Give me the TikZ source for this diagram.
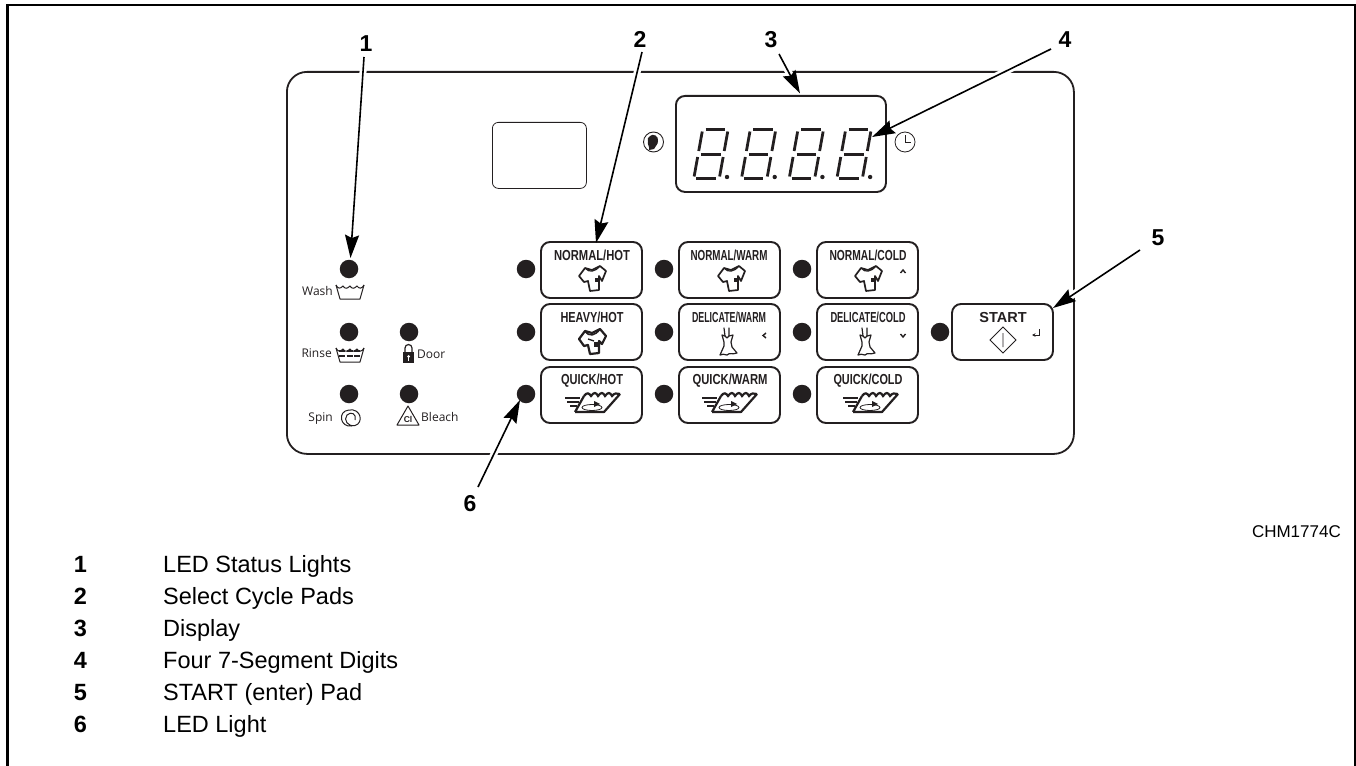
\documentclass[tikz,border=0pt]{standalone}
\usepackage{fontspec}
\usepackage{graphicx}
\setmainfont{Liberation Sans}
\newfontfamily\iconfont{Open Sans}
\usetikzlibrary{arrows.meta,calc}
\definecolor{ink}{HTML}{231F20}
\newcommand{\fs}[1]{\fontsize{#1}{#1}\selectfont}
\newcommand{\padtxt}[2]{\resizebox{#1pt}{10.5pt}{\bfseries #2}}
\tikzset{
 panelline/.style={draw=ink,line width=1.8pt},
 padbox/.style={draw=ink,line width=1.9pt,rounded corners=9pt,minimum width=101pt,minimum height=56pt,inner sep=0pt,fill=white},
 ledlamp/.style={circle,fill=ink,minimum size=18.5pt,inner sep=0pt},
 callnum/.style={font=\fs{23}\bfseries,inner sep=0pt,text=black},
 legnum/.style={font=\fs{23.5}\bfseries,inner sep=0pt,anchor=base,text=black},
 legtxt/.style={font=\fs{23.5},inner sep=0pt,anchor=base west,text=black},
 padlab/.style={inner sep=0pt,text=ink,anchor=center},
 smalltxt/.style={font=\iconfont\fs{12},inner sep=0pt,text=ink},
 halo/.style={draw=white,line width=7pt,shorten >=12pt},
 callout/.style={draw=black,line width=1.6pt,-{Stealth[length=23pt,width=14pt,inset=3pt]}},
 shirt/.pic={
  \draw[ink,line width=1.7pt,line join=round] (-13,-3)--(-7,-11)--(0,-9)--(8,-13)--(14,-8)--(10,2)--(7,-3)--(7,11)--(-2,12)--(-4,2)--(-8,3)--cycle;
  \draw[ink,line width=1.2pt] (-7,-11) .. controls (-3,-6) and (3,-7) .. (8,-13);
  \fill[ink] (3,-1) rectangle (7,3);
 },
 heavyshirt/.pic={
  \draw[ink,line width=2.2pt,line join=round] (-13,-3)--(-7,-11)--(0,-9)--(8,-13)--(14,-6)--(10,2)--(7,-1)--(7,11)--(-2,12)--(-4,3)--(-8,4)--cycle;
  \draw[ink,line width=1.6pt] (-7,-11) .. controls (-3,-5) and (3,-6) .. (8,-13);
  \draw[ink,line width=1.4pt] (-4,-3)--(2,-1);
  \fill[ink] (2,0) rectangle (7,5);
 },
 dress/.pic={
  \draw[ink,line width=1.2pt,line join=round,line cap=round] (-4,-14)--(-3,-6) (1,-14)--(1,-6);
  \draw[ink,line width=1.2pt,line join=round] (-6,-7)--(-3,-6)--(-1,-4)--(1,-6)--(5,-7)--(3,0)--(4,5)--(9,11) .. controls (4,13) and (2,10) .. (-1,13) .. controls (-4,12) and (-6,12) .. (-8,13)--(-4,4)--(-4,0)--cycle;
 },
 quickicon/.pic={
  \draw[ink,line width=2.2pt,line join=round] (-17,9)--(-8,-7) (-17,9)--(12,9)--(28,-9);
  \draw[ink,line width=2.2pt] (-8,-7) .. controls (-5,-11) and (-3,-10) .. (-1,-7) .. controls (2,-11) and (4,-11) .. (6,-7) .. controls (9,-11) and (11,-11) .. (13,-7) .. controls (16,-11) and (18,-11) .. (20,-7) .. controls (22,-10) and (25,-10) .. (28,-9);
  \draw[ink,line width=0.8pt] (0,4.5) ellipse (10 and 3);
  \fill[ink] (2,-2)--(8,1)--(2,4)--cycle;
  \draw[ink,line width=1.4pt] (-27,-5)--(-12,-5) (-25,-1)--(-13,-1) (-22,3)--(-15,3);
 },
 tubicon/.pic={
  \draw[ink,line width=1pt,line join=round] (-14,-7)--(-10,7)--(10,7)--(14,-7);
  \draw[ink,line width=1pt] (-14,-7) .. controls (-12,-3) and (-10,-3) .. (-7,-6) .. controls (-5,-3) and (-3,-3) .. (0,-6) .. controls (2,-3) and (4,-3) .. (7,-6) .. controls (9,-3) and (12,-3) .. (14,-7);
 },
 digit/.pic={
  \begin{scope}[xslant=0.18]
  \draw[ink,line width=3pt] (4.5,-50.5)--(24,-50.5) (4.5,-26)--(24,-26) (4,-1.5)--(23.5,-1.5);
  \draw[ink,line width=2.8pt] (1.5,-48.5)--(1.5,-29) (27,-48.5)--(27,-29) (1.5,-23)--(1.5,-3.5) (27,-23)--(27,-3.5);
  \end{scope}
  \fill[ink] (35,-3) circle (2.2);
 }
}
\begin{document}
\begin{tikzpicture}[x=1pt,y=-1pt]
\useasboundingbox (0,0) rectangle (1356,765);
\draw[black,line width=2.2pt] (7.5,770) -- (7.5,5) -- (1355,5) -- (1355,770);
% panel
\node[panelline,rounded corners=20pt,minimum width=787pt,minimum height=382pt,inner sep=0pt,anchor=north west] (panel) at (286,71) {};
\node[draw=ink,line width=0.8pt,rounded corners=6pt,minimum width=94pt,minimum height=66pt,inner sep=0pt,anchor=north west] (window) at (492,122) {};
\node[draw=ink,line width=1.9pt,rounded corners=9pt,minimum width=210pt,minimum height=96pt,inner sep=0pt,anchor=north west] (display) at (675,95) {};
\foreach \i in {0,1,2,3} \pic at ({692+\i*47.7},180) {digit};
% head icon and clock
\node[draw=ink,circle,line width=0.9pt,minimum size=20pt,inner sep=0pt] (headicon) at (653.5,142) {};
\fill[ink] (650,136) .. controls (653,133) and (659,136) .. (658,141) .. controls (658,145) and (655,146) .. (654,149) -- (649,150) .. controls (650,147) and (647,144) .. (648,142) .. controls (647,139) and (648,137) .. (650,136) -- cycle;
\node[draw=ink,circle,line width=0.8pt,minimum size=20pt,inner sep=0pt] (clock) at (905,142) {};
\draw[ink,line width=0.8pt] (905,135)--(905,142.5)--(911,142.5);
% status LEDs
\node[ledlamp] (lw) at (349,269) {};
\node[ledlamp] (lr) at (349,332) {};
\node[ledlamp] (ls) at (349,394) {};
\node[ledlamp] (ld) at (409,332) {};
\node[ledlamp] (lb) at (409,394) {};
\node[smalltxt,anchor=base east] (twash) at (333,295) {Wash};
\pic at (350,292) {tubicon};
\node[smalltxt,anchor=base east] (trinse) at (332,357) {Rinse};
\pic at (350,355) {tubicon};
\draw[ink,line width=1.6pt,dash pattern=on 6pt off 1.5pt] (339,351)--(361,351) (339,356)--(361,356);
\fill[ink] (403,352) rectangle (414,363);
\draw[ink,line width=1.2pt] (405,352)--(405,348) arc[start angle=180,end angle=360,radius=3.5]--(412,352);
\fill[white] (408.5,356.5) circle (1.5);
\fill[white] (407.8,356.5) rectangle (409.2,360.5);
\node[smalltxt,anchor=base west] (tdoor) at (417,358) {Door};
\node[smalltxt,anchor=base east] (tspin) at (333,421) {Spin};
\draw[ink,line width=1pt] (352,426) .. controls (340,428) and (337,411) .. (349,410) .. controls (361,408) and (364,423) .. (355,425.5) .. controls (348,427) and (343,420) .. (347,415) .. controls (351,411) and (357,414) .. (355,420);
\draw[ink,line width=1pt,line join=round] (408,406)--(397,425)--(419,425)--cycle;
\node[font=\bfseries\fs{8.5},inner sep=0pt,text=ink] (tcl) at (408,419.5) {Cl};
\node[smalltxt,anchor=base west] (tbleach) at (421,421) {Bleach};
% pad LEDs
\foreach \n/\x/\y in {a/526/269,b/664/269,c/802/269,d/526/332,e/664/332,f/802/332,g/526/394,h/664/394,i/802/394,j/940/332}
  \node[ledlamp] (led\n) at (\x,\y) {};
% pads
\node[padbox] (pa) at (591.5,270) {};
\node[padbox] (pb) at (729.5,270) {};
\node[padbox] (pc) at (867.5,270) {};
\node[padbox] (pd) at (591.5,332) {};
\node[padbox] (pe) at (729.5,332) {};
\node[padbox] (pf) at (867.5,332) {};
\node[padbox] (pg) at (591.5,395) {};
\node[padbox] (ph) at (729.5,395) {};
\node[padbox] (pi) at (867.5,395) {};
\node[padbox] (pj) at (1002.5,332) {};
\node[padlab] (ta) at (592,255.5) {\padtxt{76}{NORMAL/HOT}};
\node[padlab] (tb) at (729,255.5) {\padtxt{77}{NORMAL/WARM}};
\node[padlab] (tc) at (868,255.5) {\padtxt{77}{NORMAL/COLD}};
\node[padlab] (td) at (592,317) {\padtxt{63}{HEAVY/HOT}};
\node[padlab] (te) at (729,317) {\padtxt{74}{DELICATE/WARM}};
\node[padlab] (tf) at (868,317) {\padtxt{75}{DELICATE/COLD}};
\node[padlab] (tg) at (592,381) {\padtxt{62}{QUICK/HOT}};
\node[padlab] (th) at (730,381) {\padtxt{75}{QUICK/WARM}};
\node[padlab] (ti) at (868,381) {\padtxt{69}{QUICK/COLD}};
\node[padlab,font=\fs{14.5}\bfseries] (tj) at (1003,318) {START};
\pic at (592,279) {shirt};
\pic at (731,279) {shirt};
\pic at (868,279) {shirt};
\pic at (592,342) {heavyshirt};
\pic at (728,342) {dress};
\pic at (866,342) {dress};
\pic at (592,403) {quickicon};
\pic at (729,403) {quickicon};
\pic at (870,403) {quickicon};
% small marks
\draw[ink,line width=1.4pt] (900.5,273)--(903,270)--(905.5,273);
\draw[ink,line width=1.4pt] (900.5,334)--(903,337)--(905.5,334);
\draw[ink,line width=1.4pt] (766,333)--(763,335.5)--(766,338);
\draw[ink,line width=0.9pt] (1003,327)--(1016,340)--(1003,353)--(990,340)--cycle (1003,333)--(1003,347);
\draw[ink,line width=0.9pt,-{Stealth[length=3.5pt,width=3.5pt]}] (1039,329)--(1039,335)--(1032,335);
% callouts
\node[callnum] (n1) at (366,44) {1};
\node[callnum] (n2) at (640,39) {2};
\node[callnum] (n3) at (771,39.5) {3};
\node[callnum] (n4) at (1065,40) {4};
\node[callnum] (n5) at (1158,238) {5};
\node[callnum] (n6) at (470,504) {6};
\coordinate (s1) at (364,57);
\coordinate (s2) at (642,52);
\coordinate (s3) at (779,54);
\coordinate (s4) at (1051,49);
\coordinate (s5) at (1140,250);
\coordinate (s6) at (478,487);
\coordinate (e1) at (350.5,258);
\coordinate (e2) at (596,243);
\coordinate (e3) at (800,93.5);
\coordinate (e4) at (872,137);
\coordinate (e5) at (1053,308);
\coordinate (e6) at (520,400);
\foreach \k in {1,2,3,4,5,6} {
  \draw[halo] (s\k) -- (e\k);
  \draw[callout] (s\k) -- (e\k);
}
% legend
\node[font=\fs{17},inner sep=0pt,anchor=base east,text=black] (ref) at (1341,537) {CHM1774C};
\foreach \k/\y/\t in {1/572.7/LED Status Lights,2/604.7/Select Cycle Pads,3/636.7/Display,4/668.7/Four 7-Segment Digits,5/700.7/START (enter) Pad,6/732.7/LED Light} {
  \node[legnum] (ln\k) at (80.5,\y) {\k};
  \node[legtxt] (lt\k) at (163,\y) {\t};
}
\end{tikzpicture}
\end{document}
